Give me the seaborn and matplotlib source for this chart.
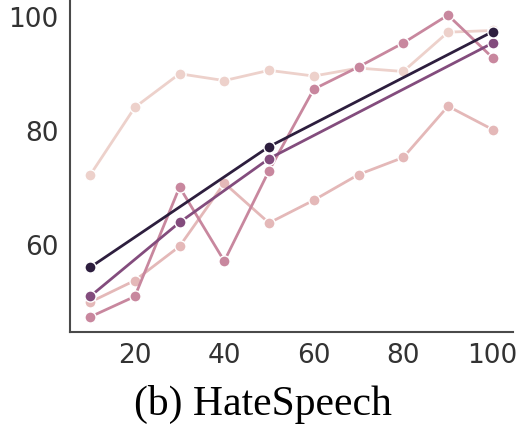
import numpy as np
import pandas as pd
import matplotlib
matplotlib.use("Agg")
import matplotlib.pyplot as plt
import seaborn as sns

# data
x_full = [10, 20, 30, 40, 50, 60, 70, 80, 90, 100]
s1_y = [72.2, 84.1, 90.0, 88.8, 90.6, 89.6, 91.0, 90.4, 97.3, 97.6]
s2_y = [49.9, 53.7, 59.7, 70.8, 63.8, 67.8, 72.3, 75.3, 84.3, 80.2]
s3_y = [47.3, 50.9, 70.1, 57.1, 73.0, 87.3, 91.2, 95.4, 100.3, 92.8]
s4_x = [10, 30, 50, 100]
s4_y = [50.9, 63.9, 75.1, 95.4]
s5_x = [10, 50, 100]
s5_y = [56.0, 77.2, 97.4]
levels = [0, 1, 3, 6, 9]

frames = []
for lev, xs, ys in zip(levels,
                       [x_full, x_full, x_full, s4_x, s5_x],
                       [s1_y, s2_y, s3_y, s4_y, s5_y]):
    frames.append(pd.DataFrame({"x": xs, "y": ys, "level": lev}))
df = pd.concat(frames, ignore_index=True)

sns.set_theme(style="white")
plt.rcParams["font.family"] = ["DejaVu Sans"]

fig = plt.figure(figsize=(5.26, 4.29), dpi=100)
ax = fig.add_axes([0.133, 0.226, 0.842, 0.774])

sns.lineplot(data=df, x="x", y="y", hue="level", palette="ch:", marker="o",
             markersize=8, markeredgecolor="white", markeredgewidth=1,
             linewidth=2, legend=False, ax=ax)

sns.despine(ax=ax)
for sp in ["left", "bottom"]:
    ax.spines[sp].set_color("#4a4a4a")
    ax.spines[sp].set_linewidth(1.5)

ax.set_yticks([60, 80, 100])
ax.set_xticks([20, 40, 60, 80, 100])
ax.tick_params(axis="both", labelsize=19, colors="#333333", pad=8, length=0)
ax.set_ylabel("")
ax.set_xlabel("(b) HateSpeech", fontsize=30, family=["Liberation Serif"],
              color="black")
ax.xaxis.set_label_coords(0.436, -0.16)

fig.savefig("out.png", dpi=100)
